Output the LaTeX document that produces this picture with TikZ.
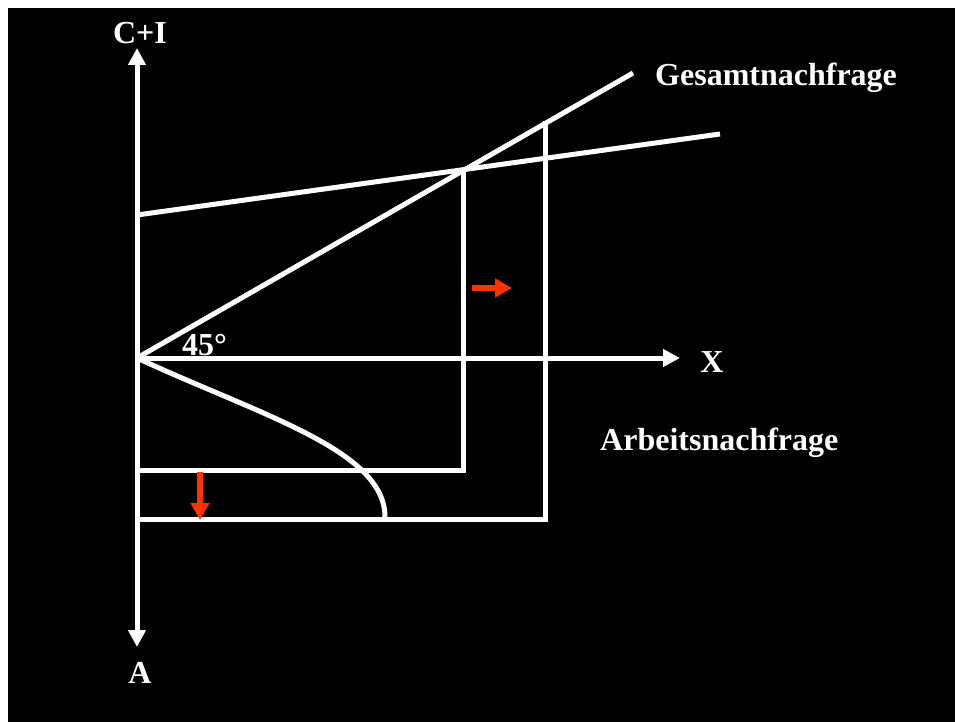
\documentclass[tikz,border=0pt]{standalone}
\usepackage{fontspec}
\setmainfont{Liberation Serif}
\usetikzlibrary{arrows.meta}
\definecolor{arrowred}{HTML}{FF3300}
\begin{document}
\begin{tikzpicture}[x=1pt,y=-1pt,
  wline/.style={draw=white,line width=5pt,line join=miter},
  whead/.style={wline,-{Triangle[length=17pt,width=17pt]}},
  redarrow/.style={draw=arrowred,line width=6pt,-{Triangle[length=17pt,width=18pt]}},
  lbl/.style={text=white,font=\bfseries\fontsize{32}{38}\selectfont,inner sep=0pt}]
\useasboundingbox (0,0) rectangle (955,722);
\fill[white] (0,0) rectangle (955,722);
\fill[black] (8,8) rectangle (965,732);
% coordinates
\coordinate (O) at (137,358);
\coordinate (Ytop) at (137,48);
\coordinate (Ybot) at (137,647);
\coordinate (Xend) at (680,358);
\coordinate (G1) at (633,73);
\coordinate (C0) at (137,215);
\coordinate (C1) at (720,134);
\coordinate (E) at (463,170);
\coordinate (E2) at (463,470);
\coordinate (L1) at (137,470);
\coordinate (V2t) at (545,121);
\coordinate (V2b) at (545,519);
\coordinate (L2) at (137,519);
\coordinate (Cend) at (385,517);
\coordinate (R1a) at (472,288);
\coordinate (R1b) at (512,288);
\coordinate (R2a) at (200,472);
\coordinate (R2b) at (200,520);
% axes
\draw[whead] (O) -- (Ytop);
\draw[whead] (O) -- (Ybot);
\draw[whead] (O) -- (Xend);
% lines
\draw[wline] (O) -- (G1);
\draw[wline] (C0) -- (C1);
\draw[wline] (E) -- (E2) -- (L1);
\draw[wline] (V2t) -- (V2b) -- (L2);
\draw[wline] (O) .. controls (260,415) and (385,450) .. (Cend);
% red arrows
\draw[redarrow] (R1a) -- (R1b);
\draw[redarrow] (R2a) -- (R2b);
% labels
\node[lbl,anchor=base] (ci) at (140,44) {C+I};
\node[lbl,anchor=base] (a) at (140,683) {A};
\node[lbl,anchor=base] (x) at (712,372) {X};
\node[lbl,anchor=base west] (deg) at (182,355) {45°};
\node[lbl,anchor=base west] (ges) at (655,86) {Gesamtnachfrage};
\node[lbl,anchor=base west] (arb) at (600,450) {Arbeitsnachfrage};
\end{tikzpicture}
\end{document}
